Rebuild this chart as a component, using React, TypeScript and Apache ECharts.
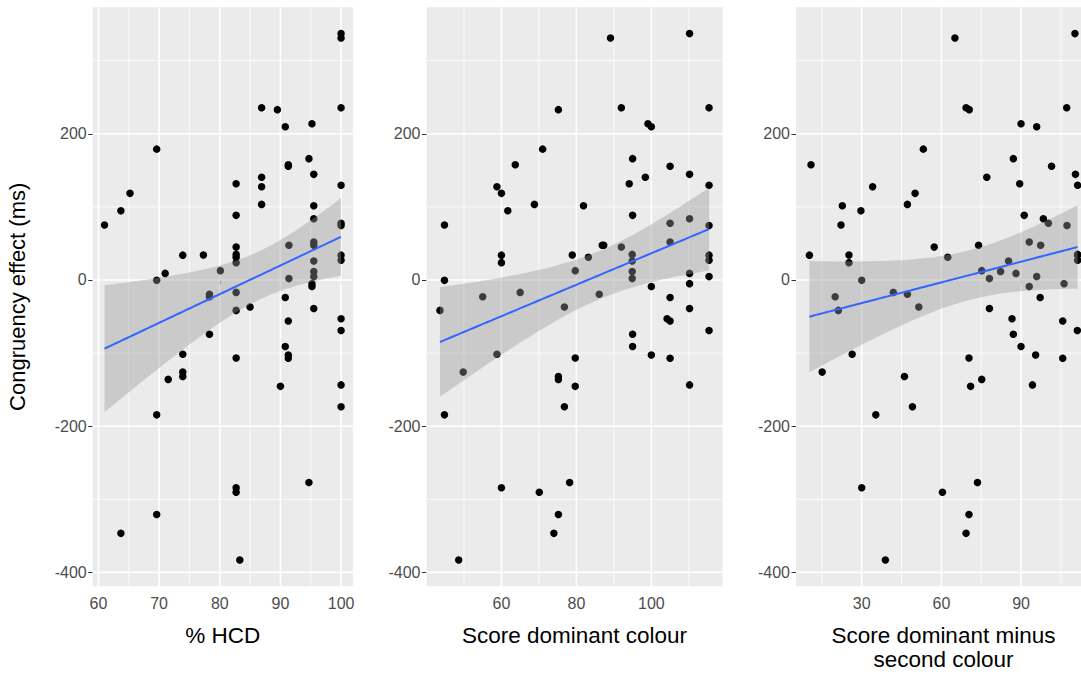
import { useEffect, useRef } from "react";
import * as echarts from "echarts";

// Congruency effect (ms) per participant, shared by all three panels
const congruencyEffect = [
  337, 331, 235.5, 233, 235.5, 209.6, 213.7, 179, 166, 157.6, 155.5, 144.5, 140.5, 131.7, 129.5,
  127.5, 118.5, 103.4, 101.5, 94.8, 88.4, 83.8, 77.5, 74.5, 75.2, 52, 47.4, 47.4, 45, 35, 34, 34,
  34.2, 31, 27, 26, 23.7, 12.8, 9, 11.5, 4.6, 1.9, -0.5, -5, -9, -17, -19.6, -24, -23, -36.9,
  -39.1, -41.6, -53, -56, -69, -74.2, -91, -101.5, -102.5, -106.6, -107, -126, -132, -136, -143.5,
  -145.5, -173.3, -184.5, -277, -284.3, -290.4, -320.7, -346.6, -383,
];

// % HCD
const percentHCD = [
  100, 100, 86.9, 89.5, 100, 90.8, 95.2, 69.6, 94.7, 91.3, 91.3, 95.5, 86.9, 82.7, 100,
  86.9, 65.2, 86.9, 95.5, 63.7, 82.7, 95.5, 100, 100, 61, 95.5, 91.4, 95.5, 82.7, 82.7, 100, 73.9,
  77.3, 82.7, 100, 95.5, 82.7, 80.1, 71, 95.5, 95.5, 91.4, 69.6, 95.2, 95.2, 82.7, 78.3, 90.8, 78.3, 85,
  95.5, 82.7, 100, 91.3, 100, 78.3, 90.8, 73.9, 91.3, 82.7, 91.3, 73.9, 73.9, 71.5, 100,
  90, 100, 69.6, 94.7, 82.7, 82.7, 69.6, 63.7, 83.3,
];

// Score of the dominant colour
const dominantScore = [
  110.2, 89.1, 92, 75.2, 115.4, 100, 99.1, 71, 95, 63.7, 105, 110.2, 98.4, 94.1, 115.4,
  58.8, 60, 68.8, 81.9, 61.7, 95, 110.2, 105, 115.4, 44.8, 105, 86.9, 87.3, 92, 94.9, 115.4, 60,
  78.9, 83.2, 115.4, 94.9, 60, 79.7, 110.2, 94.9, 115.4, 94.9, 44.8, 110.2, 100, 65, 86.1, 105, 55, 76.8,
  110.2, 43.6, 104.2, 105, 115.4, 95, 95, 58.8, 100, 79.7, 105, 49.8, 75.2, 75.2, 110.2,
  79.7, 76.8, 44.8, 78.2, 60, 70.1, 75.2, 74, 48.6,
];

// Score of the dominant colour minus the second colour
const dominantMinusSecond = [
  110.3, 65.1, 69.3, 70.5, 107.2, 95.9, 90, 53.2, 87.1, 10.9, 101.5, 110.5, 77.1, 89.5, 111.3,
  34.1, 50.1, 47.2, 22.7, 29.7, 91.2, 98.4, 100.3, 107.3, 22.2, 93.1, 74, 97.4, 57.3, 111.3, 111.3, 10.3,
  25.2, 62.4, 111.3, 85.3, 25.2, 75.2, 88.1, 82.3, 95.9, 78.1, 30, 106.2, 93.1, 41.9, 47.2, 97.2, 20, 51.5,
  78.1, 21.2, 86.6, 105.7, 111.2, 87.1, 90, 26.4, 95.5, 70.4, 105.7, 15.1, 46.1, 75.2, 94.3,
  71, 49.1, 35.3, 73.6, 30, 60.4, 70.4, 69.3, 38.9,
];

const effectBreaks = [-400, -200, 0, 200];
const effectMinor = [-300, -100, 100, 300];
const hcdBreaks = [60, 70, 80, 90, 100];
const hcdMinor = [65, 75, 85, 95];
const dominantBreaks = [60, 80, 100];
const dominantMinor = [50, 70, 90, 110];
const differenceBreaks = [30, 60, 90];
const differenceMinor = [15, 45, 75, 105];

const yTitle = "Congruency effect (ms)";
const panelTitles = ["% HCD", "Score dominant colour", "Score dominant minus\nsecond colour"];

const FONT = "'Liberation Sans', Arial, sans-serif";
const PANEL_TOP = 7.3;
const PANEL_HEIGHT = 579;

// ggplot-style continuous range with 5% expansion on each side
function expandRange(values: number[]): [number, number] {
  const lo = Math.min(...values);
  const hi = Math.max(...values);
  const pad = (hi - lo) * 0.05;
  return [lo - pad, hi + pad];
}

// Student t 97.5% quantile (Cornish-Fisher expansion)
function tQuantile975(df: number) {
  const z = 1.959964;
  return (
    z +
    (z ** 3 + z) / (4 * df) +
    (5 * z ** 5 + 16 * z ** 3 + 3 * z) / (96 * df ** 2) +
    (3 * z ** 7 + 19 * z ** 5 + 17 * z ** 3 - 15 * z) / (384 * df ** 3)
  );
}

// Least-squares fit with 95% confidence band of the mean, evaluated on 80 points
function linearSmooth(xs: number[], ys: number[], steps = 80) {
  const n = xs.length;
  const mx = xs.reduce((a, b) => a + b, 0) / n;
  const my = ys.reduce((a, b) => a + b, 0) / n;
  let sxx = 0;
  let sxy = 0;
  for (let i = 0; i < n; i++) {
    sxx += (xs[i] - mx) ** 2;
    sxy += (xs[i] - mx) * (ys[i] - my);
  }
  const slope = sxy / sxx;
  const intercept = my - slope * mx;
  let sse = 0;
  for (let i = 0; i < n; i++) sse += (ys[i] - intercept - slope * xs[i]) ** 2;
  const s = Math.sqrt(sse / (n - 2));
  const t = tQuantile975(n - 2);
  const lo = Math.min(...xs);
  const hi = Math.max(...xs);
  const out: { x: number; fit: number; lower: number; upper: number }[] = [];
  for (let k = 0; k < steps; k++) {
    const x = lo + ((hi - lo) * k) / (steps - 1);
    const fit = intercept + slope * x;
    const se = s * Math.sqrt(1 / n + (x - mx) ** 2 / sxx);
    out.push({ x, fit, lower: fit - t * se, upper: fit + t * se });
  }
  return out;
}

const panels = [
  { xs: percentHCD, breaks: hcdBreaks, minor: hcdMinor, title: panelTitles[0], left: 92.7, width: 260.2 },
  { xs: dominantScore, breaks: dominantBreaks, minor: dominantMinor, title: panelTitles[1], left: 426.5, width: 296 },
  { xs: dominantMinusSecond, breaks: differenceBreaks, minor: differenceMinor, title: panelTitles[2], left: 796, width: 295 },
];

function buildOption() {
  const yDomain = expandRange(congruencyEffect);
  const grids: any[] = [];
  const xAxes: any[] = [];
  const yAxes: any[] = [];
  const series: any[] = [];

  panels.forEach((p, i) => {
    const xDomain = expandRange(p.xs);
    grids.push({
      left: p.left,
      top: PANEL_TOP,
      width: p.width,
      height: PANEL_HEIGHT,
      show: true,
      backgroundColor: "#EBEBEB",
      borderWidth: 0,
      containLabel: false,
      outerBoundsMode: "none",
    });
    xAxes.push({
      type: "value",
      gridIndex: i,
      min: xDomain[0],
      max: xDomain[1],
      axisLine: { show: false },
      splitLine: { show: false },
      axisTick: { show: true, customValues: p.breaks, length: 4.5, lineStyle: { color: "#333333", width: 1 } },
      axisLabel: { customValues: p.breaks, color: "#4D4D4D", fontSize: 16, fontFamily: FONT, margin: 9 },
      name: p.title,
      nameLocation: "middle",
      nameGap: 37,
      nameTextStyle: { fontSize: 22.5, color: "#000000", fontFamily: FONT, lineHeight: 24, verticalAlign: "top" },
    });
    yAxes.push({
      type: "value",
      gridIndex: i,
      min: yDomain[0],
      max: yDomain[1],
      axisLine: { show: false },
      splitLine: { show: false },
      axisTick: { show: true, customValues: effectBreaks, length: 4.5, lineStyle: { color: "#333333", width: 1 } },
      axisLabel: { customValues: effectBreaks, color: "#4D4D4D", fontSize: 16, fontFamily: FONT, margin: 6 },
      name: i === 0 ? yTitle : "",
      nameLocation: "middle",
      nameRotate: 90,
      nameGap: 64,
      nameTextStyle: { fontSize: 22, color: "#000000", fontFamily: FONT },
    });

    // panel grid lines
    series.push({
      type: "custom",
      xAxisIndex: i,
      yAxisIndex: i,
      silent: true,
      z: 1,
      data: [[xDomain[0], yDomain[0]]],
      renderItem: (params: any, api: any) => {
        const cs = params.coordSys;
        const children: any[] = [];
        const vLine = (v: number, w: number) => {
          const px = api.coord([v, yDomain[0]])[0];
          children.push({
            type: "line",
            shape: { x1: px, y1: cs.y, x2: px, y2: cs.y + cs.height },
            style: { stroke: "#FFFFFF", lineWidth: w },
          });
        };
        const hLine = (v: number, w: number) => {
          const py = api.coord([xDomain[0], v])[1];
          children.push({
            type: "line",
            shape: { x1: cs.x, y1: py, x2: cs.x + cs.width, y2: py },
            style: { stroke: "#FFFFFF", lineWidth: w },
          });
        };
        p.minor.forEach((v) => vLine(v, 0.8));
        effectMinor.forEach((v) => hLine(v, 0.8));
        p.breaks.forEach((v) => vLine(v, 1.6));
        effectBreaks.forEach((v) => hLine(v, 1.6));
        return { type: "group", children };
      },
    });

    // observations
    series.push({
      type: "scatter",
      xAxisIndex: i,
      yAxisIndex: i,
      z: 2,
      symbol: "circle",
      symbolSize: 7.5,
      itemStyle: { color: "#000000", opacity: 1 },
      data: p.xs.map((x, k) => [x, congruencyEffect[k]]),
    });

    const smooth = linearSmooth(p.xs, congruencyEffect);

    // confidence band
    series.push({
      type: "custom",
      xAxisIndex: i,
      yAxisIndex: i,
      silent: true,
      z: 3,
      data: [[smooth[0].x, smooth[0].fit]],
      renderItem: (_params: any, api: any) => {
        const upper = smooth.map((d) => api.coord([d.x, d.upper]));
        const lower = smooth.map((d) => api.coord([d.x, d.lower])).reverse();
        return {
          type: "polygon",
          shape: { points: upper.concat(lower) },
          style: { fill: "rgba(153,153,153,0.4)", stroke: "none" },
        };
      },
    });

    // fitted line
    series.push({
      type: "line",
      xAxisIndex: i,
      yAxisIndex: i,
      z: 4,
      showSymbol: false,
      symbol: "none",
      lineStyle: { color: "#3366FF", width: 2 },
      data: smooth.map((d) => [d.x, d.fit]),
    });
  });

  return {
    animation: false,
    backgroundColor: "#FFFFFF",
    grid: grids,
    xAxis: xAxes,
    yAxis: yAxes,
    series,
  };
}

export default function App() {
  const ref = useRef<HTMLDivElement>(null);
  useEffect(() => {
    if (!ref.current) return;
    const chart = echarts.init(ref.current, undefined, { renderer: "svg" });
    chart.setOption(buildOption() as any);
    return () => chart.dispose();
  }, []);
  return (
    <div
      ref={ref}
      style={{ position: "absolute", left: 0, top: 0, width: 1081, height: 675, background: "#FFFFFF" }}
    />
  );
}
